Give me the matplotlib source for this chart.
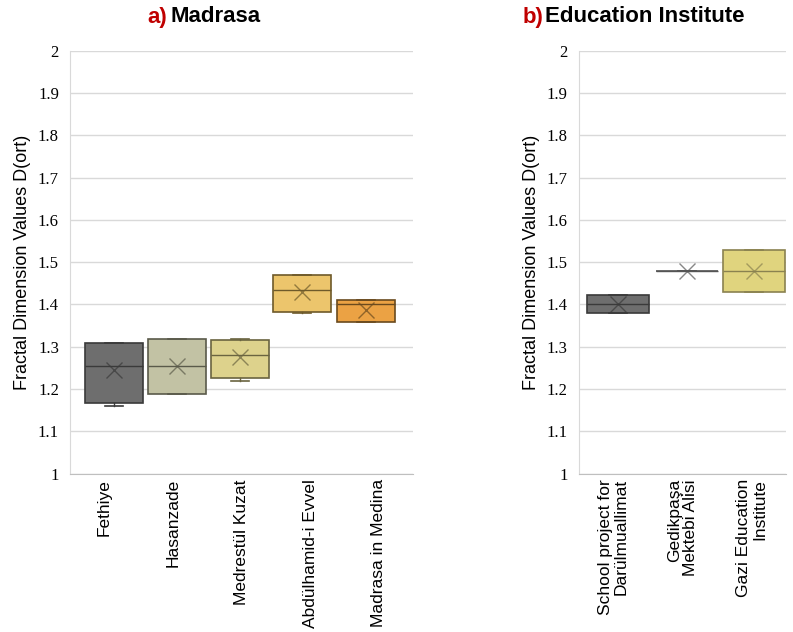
import matplotlib
matplotlib.use("Agg")
import matplotlib.pyplot as plt

# Madrasa buildings: box statistics of D(ort)
madrasa_names = ["Fethiye", "Hasanzade", "Medrestül Kuzat", "Abdülhamid-i Evvel", "Madrasa in Medina"]
madrasa_q1 = [1.168, 1.188, 1.226, 1.383, 1.359]
madrasa_q3 = [1.309, 1.319, 1.316, 1.469, 1.410]
madrasa_med = [1.255, 1.254, 1.280, 1.435, 1.401]
madrasa_mean = [1.244, 1.254, 1.275, 1.429, 1.388]
madrasa_lo = [1.161, 1.188, 1.219, 1.379, 1.359]
madrasa_hi = [1.309, 1.319, 1.319, 1.469, 1.410]
madrasa_fill = ["#6e6e6e", "#c2c2a4", "#ddd28c", "#ecc56c", "#eba244"]
madrasa_line = ["#3a3a3a", "#5a5a4a", "#6a6440", "#6e5a2a", "#6a4a1e"]

# Education institutes
school_names = ["School project for\nDarülmuallimat", "Gedikpaşa\nMektebi Alisi", "Gazi Education\nInstitute"]
school_q1 = [1.380, 1.480, 1.430]
school_q3 = [1.422, 1.480, 1.529]
school_med = [1.400, 1.480, 1.480]
school_mean = [1.400, 1.480, 1.480]
school_lo = [1.380, 1.480, 1.430]
school_hi = [1.422, 1.480, 1.529]
school_fill = ["#6e6e6e", "#7a7a7a", "#e0d47e"]
school_line = ["#3a3a3a", "#555555", "#8a8250"]

yticks = [1, 1.1, 1.2, 1.3, 1.4, 1.5, 1.6, 1.7, 1.8, 1.9, 2]
ytick_labels = ["1", "1.1", "1.2", "1.3", "1.4", "1.5", "1.6", "1.7", "1.8", "1.9", "2"]


def draw_panel(ax, names, q1, q3, med, mean, lo, hi, fills, lines, pos, width):
    stats = []
    for i in range(len(names)):
        stats.append(dict(q1=q1[i], q3=q3[i], med=med[i], mean=mean[i],
                          whislo=lo[i], whishi=hi[i], fliers=[]))
    for i, s in enumerate(stats):
        ax.bxp([s], positions=[pos[i]], widths=width, showmeans=True,
               patch_artist=True, capwidths=0.26, manage_ticks=False,
               boxprops=dict(facecolor=fills[i], edgecolor=lines[i], linewidth=1.2),
               medianprops=dict(color=lines[i], linewidth=1.0),
               whiskerprops=dict(color=lines[i], linewidth=1.0),
               capprops=dict(color=lines[i], linewidth=1.2),
               meanprops=dict(marker="x", markersize=12, markeredgewidth=1.0,
                              markeredgecolor=lines[i], alpha=0.7))
    ax.set_ylim(1, 2)
    ax.set_xlim(0.5, len(names) + 0.5)
    ax.set_yticks(yticks)
    ax.set_yticklabels(ytick_labels, fontfamily="Liberation Serif", fontsize=12)
    ax.set_xticks(range(1, len(names) + 1))
    ax.set_xticklabels(names, rotation=90, fontsize=12.5, fontfamily="Liberation Sans",
                       va="top", ha="center", multialignment="right", linespacing=1.12)
    ax.tick_params(length=0, pad=8)
    ax.tick_params(axis="x", pad=4)
    ax.yaxis.grid(True, color="#d9d9d9", linewidth=1.0)
    ax.set_axisbelow(True)
    for side in ["top", "right"]:
        ax.spines[side].set_visible(False)
    ax.spines["left"].set_color("#d9d9d9")
    ax.spines["bottom"].set_color("#bfbfbf")
    ax.set_ylabel("Fractal Dimension Values D(ort)", fontfamily="Liberation Sans",
                  fontsize=13, labelpad=5)


fig = plt.figure(figsize=(7.93, 6.32), dpi=100)
ax1 = fig.add_axes([0.0883, 0.2505, 0.4325, 0.6693])
ax2 = fig.add_axes([0.7300, 0.2505, 0.2610, 0.6693])

draw_panel(ax1, madrasa_names, madrasa_q1, madrasa_q3, madrasa_med, madrasa_mean,
           madrasa_lo, madrasa_hi, madrasa_fill, madrasa_line,
           [1.14, 2.06, 2.98, 3.88, 4.81], 0.85)
draw_panel(ax2, school_names, school_q1, school_q3, school_med, school_mean,
           school_lo, school_hi, school_fill, school_line,
           [1.07, 2.07, 3.04], 0.9)

title_font = dict(fontfamily="Liberation Sans", fontweight="bold", va="center", fontsize=16)
fig.text(167 / 793, 1 - 17 / 632, "a)", color="#c00000", ha="right", **title_font)
fig.text(170 / 793, 1 - 17 / 632, "Madrasa", color="black", ha="left", **title_font)
fig.text(543 / 793, 1 - 17 / 632, "b)", color="#c00000", ha="right", **title_font)
fig.text(545 / 793, 1 - 17 / 632, "Education Institute", color="black", ha="left", **title_font)

fig.savefig("out.png", dpi=100)
